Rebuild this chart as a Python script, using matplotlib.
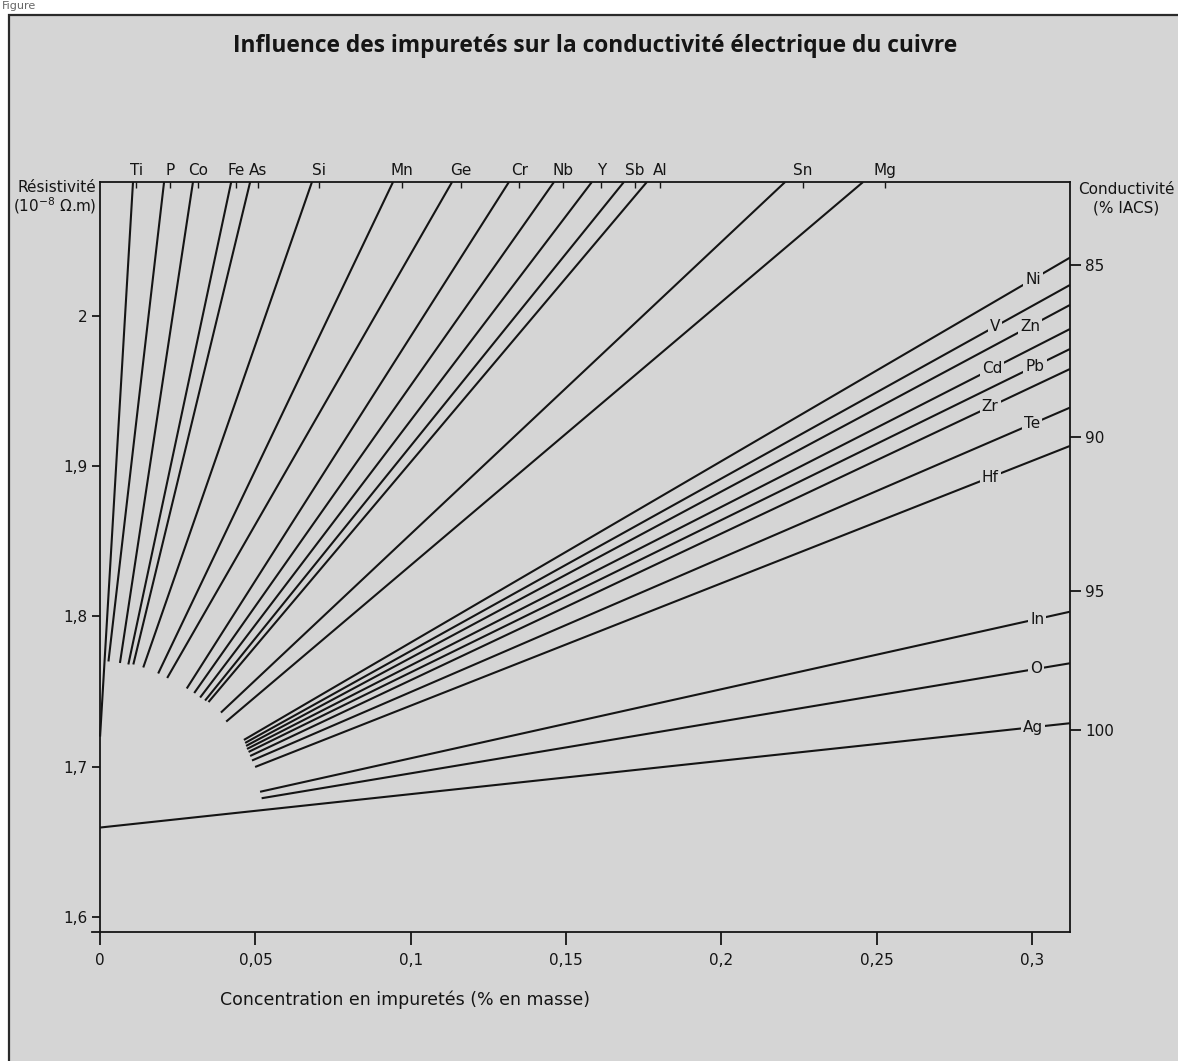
import numpy as np
import matplotlib
matplotlib.use('Agg')
import matplotlib.pyplot as plt
from matplotlib.patches import Rectangle

# Valeurs (concentration en % masse, résistivité en 10^-8 ohm.m)

# éléments dont la droite sort par le haut du cadre
elements_haut = ['Ti', 'P', 'Co', 'Fe', 'As', 'Si', 'Mn', 'Ge', 'Cr', 'Nb', 'Y', 'Sb', 'Al', 'Sn', 'Mg']
c_repere_haut = [0.0116, 0.0225, 0.0316, 0.0438, 0.0509, 0.0705, 0.0972, 0.1162,
                 0.1349, 0.1491, 0.1613, 0.1722, 0.1803, 0.2263, 0.2527]
c_debut_haut = [0.0, 0.0027, 0.0064, 0.0091, 0.0107, 0.0139, 0.0187, 0.0216,
                0.0279, 0.0303, 0.0322, 0.0338, 0.0349, 0.0389, 0.0406]
r_debut_haut = [1.720, 1.770, 1.769, 1.768, 1.768, 1.766, 1.762, 1.759,
                1.752, 1.749, 1.746, 1.744, 1.743, 1.736, 1.730]
c_fin_haut = [0.0106, 0.0206, 0.0299, 0.0422, 0.0483, 0.0682, 0.0943, 0.1133,
              0.1316, 0.1461, 0.1583, 0.1686, 0.1760, 0.2205, 0.2456]

# éléments dont la droite sort par le côté droit
elements_droite = ['Ni', 'V', 'Zn', 'Cd', 'Pb', 'Zr', 'Te', 'Hf', 'In', 'O', 'Ag']
c_debut_droite = [0.0463, 0.0467, 0.0470, 0.0473, 0.0478, 0.0483, 0.0489, 0.0499, 0.0515, 0.0520, 0.0]
r_debut_droite = [1.7178, 1.7158, 1.7138, 1.7118, 1.7098, 1.7071, 1.7041, 1.6998, 1.6833, 1.6790, 1.6595]
r_fin_droite = [2.0387, 2.0205, 2.0072, 1.9912, 1.9779, 1.9646, 1.9389, 1.9134, 1.8031, 1.7688, 1.7289]
c_etiquette = [0.3003, 0.2881, 0.2993, 0.2871, 0.3009, 0.2865, 0.3000, 0.2865, 0.3016, 0.3013, 0.3003]

# axes
x_ticks = [0, 0.05, 0.1, 0.15, 0.2, 0.25, 0.3]
x_labels = ['0', '0,05', '0,1', '0,15', '0,2', '0,25', '0,3']
y_ticks = [1.6, 1.7, 1.8, 1.9, 2.0]
y_labels = ['1,6', '1,7', '1,8', '1,9', '2']
iacs_ticks = [85, 90, 95, 100]
c_max = 0.3122
r_min, r_max = 1.590, 2.089
# échelle de droite telle que dessinée : rho = A + B / IACS
echelle_A, echelle_B = -0.0289, 175.33

fond = '#d5d5d5'
encre = '#151515'

plt.rcParams['font.family'] = ['DejaVu Sans']
plt.rcParams['text.color'] = encre
plt.rcParams['xtick.color'] = encre
plt.rcParams['ytick.color'] = encre

W, H = 1178, 1061
fig = plt.figure(figsize=(W / 100, H / 100), dpi=100, facecolor='white')

# cadre gris de la figure
fig.patches.append(Rectangle((9 / W, -0.02), 1.1, 1 - 15 / H + 0.02, transform=fig.transFigure,
                             facecolor=fond, edgecolor='#2a2a2a', linewidth=1.6, zorder=-10))
fig.text(0.002, 0.999, 'Figure', fontsize=8, color='#666666', va='top', ha='left')

ax = fig.add_axes([92 / W, (H - 932) / H, (1070 - 92) / W, (932 - 182) / H])
ax.set_facecolor(fond)
ax.set_xlim(-0.0026, c_max)
ax.set_ylim(r_min, r_max)

for s in ax.spines.values():
    s.set_linewidth(1.3)
    s.set_color(encre)
ax.spines['left'].set_position(('data', 0))
ax.spines['top'].set_bounds(0, c_max)

# droites sortant par le haut
for c0, r0, c1 in zip(c_debut_haut, r_debut_haut, c_fin_haut):
    ax.plot([c0, c1], [r0, r_max], color=encre, lw=1.5, solid_capstyle='butt', zorder=2)

# droites sortant à droite, avec leur symbole posé sur la ligne
for nom, c0, r0, r1, cl in zip(elements_droite, c_debut_droite, r_debut_droite, r_fin_droite, c_etiquette):
    ax.plot([c0, c_max], [r0, r1], color=encre, lw=1.5, solid_capstyle='butt', zorder=2)
    rl = np.interp(cl, [c0, c_max], [r0, r1])
    ax.text(cl, rl, nom, ha='center', va='center', fontsize=11, zorder=3,
            bbox=dict(facecolor=fond, edgecolor='none', pad=1.5))

ax.set_xticks(x_ticks, x_labels, fontsize=11)
ax.set_yticks(y_ticks, y_labels, fontsize=11)
ax.tick_params(axis='x', direction='out', length=9, width=1.3, pad=6)
ax.tick_params(axis='y', direction='out', length=6, width=1.3, pad=3)

# repères des éléments en haut
haut = ax.secondary_xaxis('top')
haut.set_xticks(c_repere_haut, elements_haut, fontsize=11)
haut.tick_params(direction='in', length=4, width=1, pad=3)
haut.spines['top'].set_visible(False)

# conductivité (% IACS) à droite
def rho_vers_iacs(r):
    r = np.asarray(r, dtype=float)
    with np.errstate(divide='ignore'):
        return echelle_B / (r - echelle_A)

def iacs_vers_rho(g):
    g = np.asarray(g, dtype=float)
    with np.errstate(divide='ignore'):
        return echelle_A + echelle_B / g

droite = ax.secondary_yaxis('right', functions=(rho_vers_iacs, iacs_vers_rho))
droite.set_yticks(iacs_ticks, [str(v) for v in iacs_ticks], fontsize=11)
droite.tick_params(direction='out', length=8, width=1.3, pad=3)
droite.spines['right'].set_visible(False)

# titres et légendes des axes
fig.text(595 / W, 1 - 46 / H, 'Influence des impuretés sur la conductivité électrique du cuivre',
         ha='center', va='center', fontsize=16.4, fontweight='bold', family=['Open Sans', 'DejaVu Sans'])
fig.text(96 / W, 1 - 188 / H, 'Résistivité', ha='right', va='center', fontsize=11)
fig.text(96 / W, 1 - 206 / H, '(10$^{-8}$ $\\Omega$.m)', ha='right', va='center', fontsize=11)
fig.text(1126 / W, 1 - 190 / H, 'Conductivité', ha='center', va='center', fontsize=11)
fig.text(1126 / W, 1 - 208 / H, '(% IACS)', ha='center', va='center', fontsize=11)
fig.text(405 / W, 1 - 1000 / H, 'Concentration en impuretés (% en masse)', ha='center', va='center', fontsize=12.5)

fig.savefig('out.png', dpi=100, facecolor='white')
